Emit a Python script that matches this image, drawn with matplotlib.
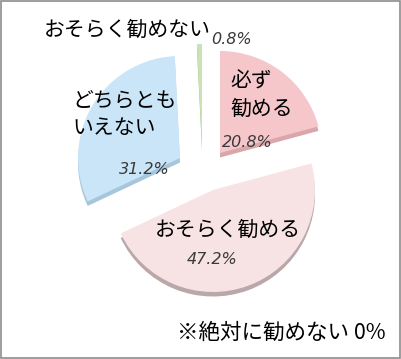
import matplotlib.pyplot as plt
from matplotlib.patches import Rectangle

# data (clockwise from 12 o'clock)
labels = ["必ず\n勧める", "おそらく勧める", "どちらとも\nいえない", "おそらく勧めない"]
shares = [20.8, 47.2, 31.2, 0.8]
pct_text = ["20.8%", "47.2%", "31.2%", "0.8%"]
note = "※絶対に勧めない 0%"

top_colors = ["#f5c7ca", "#f7e3e4", "#c9e5f7", "#c9e2b6"]
side_colors = ["#d9a6aa", "#b9a7a9", "#a6c6dc", "#a8c494"]
# how far each slice is pulled out (x, y) - tilted view so not radial
offsets = [(0.15, 0.09), (0.08, -0.28), (-0.25, 0.04), (-0.03, 0.16)]
depth = 0.045

jp = ["Noto Sans CJK JP", "DejaVu Sans"]

fig = plt.figure(figsize=(4.01, 3.59), dpi=100)
ax = fig.add_axes([0, 0, 1, 1])

# pixel -> data: 100 px per unit, pie centre at (205, 162)
def px(x, y):
    return (x - 205) / 100, (162 - y) / 100

# thickness of the tilted pie: darker copy shifted down
sides, _ = ax.pie(shares, colors=side_colors, startangle=90, counterclock=False,
                  radius=1.02, frame=True, wedgeprops=dict(linewidth=0))
tops, _ = ax.pie(shares, colors=top_colors, startangle=90, counterclock=False,
                 radius=1.02, frame=True, wedgeprops=dict(linewidth=0))
for w_side, w_top, (dx, dy) in zip(sides, tops, offsets):
    w_side.set_center((dx, dy - depth))
    w_top.set_center((dx, dy))

ax.set_xlim(-2.05, 1.96)
ax.set_ylim(-1.97, 1.62)
ax.set_aspect("auto")
ax.axis("off")

# category labels
ax.text(*px(230, 95), labels[0], fontsize=15, family=jp, ha="left",
        va="center", linespacing=1.35)
ax.text(*px(228, 230), labels[1], fontsize=15, family=jp, ha="center",
        va="center")
ax.text(*px(72, 114), labels[2], fontsize=15, family=jp, ha="left",
        va="center", linespacing=1.3)
ax.text(*px(44, 30), labels[3], fontsize=15, family=jp, ha="left",
        va="center")

# percentages
pct_pos = [(247, 143), (212, 260), (144, 170), (232, 40)]
for t, (x, y) in zip(pct_text, pct_pos):
    ax.text(*px(x, y), t, fontsize=11.5, style="italic", color="#3a3a3a",
            family=["DejaVu Sans"], ha="center", va="center")

ax.text(*px(386, 333), note, fontsize=15.5, family=jp, ha="right", va="center")

# outer frame
fig.patches.append(Rectangle((0.002, 0.003), 0.995, 0.994, transform=fig.transFigure,
                             fill=False, edgecolor="#8c8c8c", linewidth=1.2))

fig.savefig("out.png", dpi=100)
